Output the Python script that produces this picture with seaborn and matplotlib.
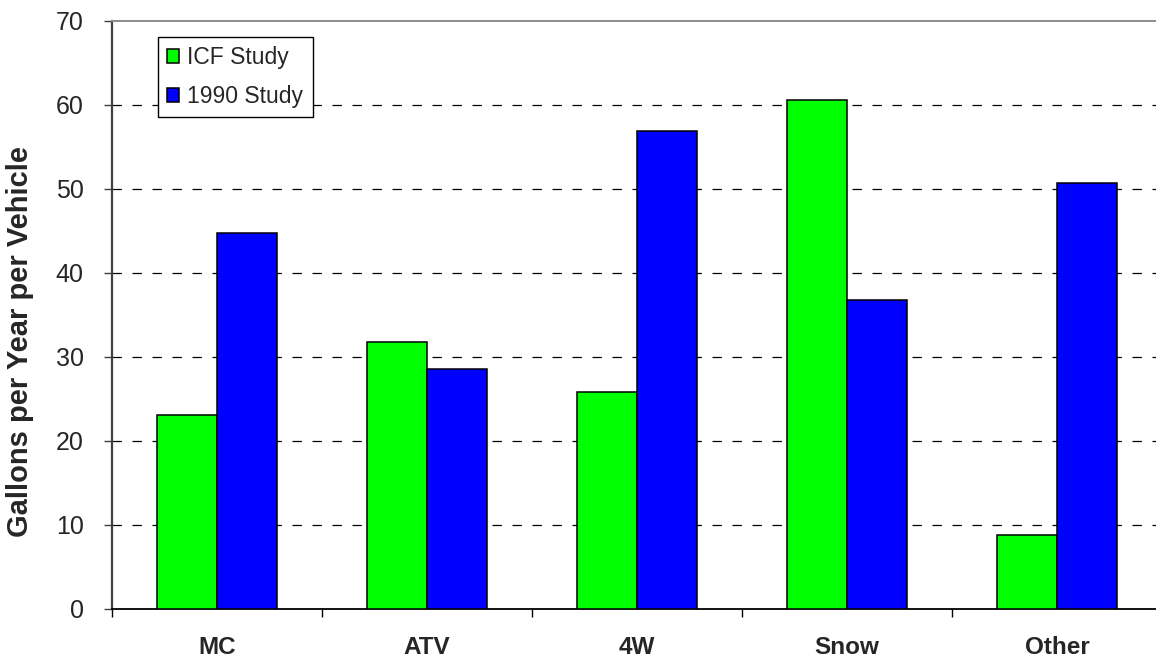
import matplotlib.pyplot as plt
import numpy             as np
import pandas            as pd
import seaborn           as sns

# Data
categories = ['MC', 'ATV', '4W', 'Snow', 'Other']
icf_study  = [23.0, 31.7, 25.8, 60.6, 8.7]
study_1990 = [44.8, 28.5, 56.9, 36.8, 50.7]
series     = ['ICF Study', '1990 Study']
colors     = ['#00FF00', '#0000FF']
y_ticks    = [0, 10, 20, 30, 40, 50, 60, 70]

df = pd.DataFrame({
    'Category': categories * 2,
    'Gallons' : icf_study + study_1990,
    'Study'   : [series[0]] * len(categories) + [series[1]] * len(categories),
})

sns.set_style('white')
plt.rcParams['font.family'] = ['Liberation Sans', 'DejaVu Sans']

W, H = 1156, 658
fig = plt.figure(figsize=(W / 100, H / 100), dpi=100)
# plot area runs past the right edge of the picture, like the original
ax = fig.add_axes([112 / W, (H - 608.5) / H, 1050 / W, 587.5 / H])

sns.barplot(data=df, x='Category', y='Gallons', hue='Study', order=categories,
            hue_order=series, palette=colors, width=0.57, saturation=1,
            edgecolor='black', linewidth=1.1, ax=ax, zorder=3)

ax.set_xlim(-0.5, len(categories) - 0.5)
ax.set_ylim(0, 70)
ax.set_yticks(y_ticks)

# dashed grid lines 10..60
for v in y_ticks[1:-1]:
    ax.axhline(v, color='black', lw=0.9, ls=(0, (7.5, 8.5)), zorder=1)

# spines
ax.spines['right'].set_visible(False)
ax.spines['left'].set_color('#404040')
ax.spines['left'].set_linewidth(1.6)
ax.spines['bottom'].set_color('black')
ax.spines['bottom'].set_linewidth(1.3)
ax.spines['top'].set_color('#8c8c8c')
ax.spines['top'].set_linewidth(1.4)

# ticks: labels at the centres, tick marks between the groups
ax.set_xticks(range(len(categories)))
ax.set_xticklabels(categories, fontsize=17.5, fontweight='bold')
ax.set_xticks(np.arange(-0.5, len(categories), 1.0), minor=True)
ax.tick_params(axis='x', which='major', length=0, pad=20)
ax.tick_params(axis='x', which='minor', length=6, width=1.0, color='black',
               direction='out', bottom=True)
ax.tick_params(axis='y', length=5.5, width=1.0, color='#404040',
               direction='out', left=True, labelsize=18, pad=15)

ax.set_xlabel('')
ax.set_ylabel('Gallons per Year per Vehicle', fontsize=21, fontweight='bold')
ax.yaxis.set_label_coords((34 - 112) / 1050, 0.455)

# legend
handles, labels = ax.get_legend_handles_labels()
ax.legend(handles, labels, loc='upper left',
          bbox_to_anchor=(157.7 / W, 1 - 37 / H), bbox_transform=fig.transFigure,
          borderaxespad=0, fancybox=False, frameon=True, edgecolor='black',
          framealpha=1, fontsize=16.5, handlelength=0.55, handleheight=0.55,
          handletextpad=0.35, borderpad=0.4, labelspacing=0.7)
ax.get_legend().get_frame().set_linewidth(1.0)

fig.savefig('out.png', dpi=100)
